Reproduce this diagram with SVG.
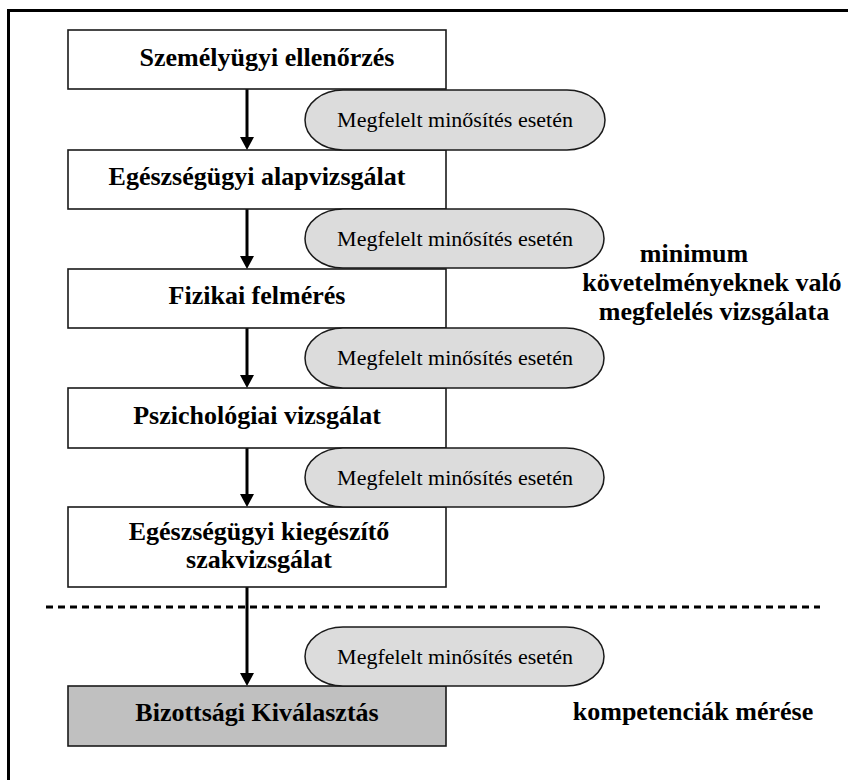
<svg xmlns="http://www.w3.org/2000/svg" width="848" height="780" viewBox="0 0 848 780">
<style>
.box{fill:#ffffff;stroke:#1a1a1a;stroke-width:1.6}
.grey{fill:#c0c0c0}
.pill{fill:#dcdcdc;stroke:#1a1a1a;stroke-width:1.5}
.bt{font-family:'Liberation Serif','Times New Roman','DejaVu Serif',serif;font-weight:bold;font-size:26px;fill:#000;text-anchor:middle}
.pt{font-family:'Liberation Serif','Times New Roman','DejaVu Serif',serif;font-size:22px;fill:#000;text-anchor:middle}
.conn{stroke:#000;stroke-width:3;fill:none}
</style>
<defs>
<marker id="ah" markerUnits="userSpaceOnUse" markerWidth="14" markerHeight="14" refX="1" refY="7" orient="auto">
<path d="M0,0 L13,7 L0,14 Z" fill="#000"/>
</marker>
</defs>
<rect width="848" height="780" fill="#fff"/>
<g id="frame">
<path d="M8.5,780 V10.5 H848" fill="none" stroke="#000" stroke-width="3"/>
</g>
<g id="connectors">
<line class="conn" x1="247" y1="89" x2="247" y2="138" marker-end="url(#ah)"/>
<line class="conn" x1="247" y1="209" x2="247" y2="257" marker-end="url(#ah)"/>
<line class="conn" x1="247" y1="328" x2="247" y2="376" marker-end="url(#ah)"/>
<line class="conn" x1="247" y1="448" x2="247" y2="495" marker-end="url(#ah)"/>
<line class="conn" x1="247" y1="587" x2="247" y2="674" marker-end="url(#ah)"/>
<line x1="46" y1="607" x2="820" y2="607" stroke="#000" stroke-width="3" stroke-dasharray="7,5"/>
</g>
<g id="n1"><rect class="box" x="68" y="30" width="378" height="59"/><text class="bt" x="267" y="66">Személyügyi ellenőrzés</text></g>
<g id="n2"><rect class="box" x="68" y="150" width="378" height="59"/><text class="bt" x="257" y="185">Egészségügyi alapvizsgálat</text></g>
<g id="n3"><rect class="box" x="68" y="269" width="378" height="59"/><text class="bt" x="257" y="304">Fizikai felmérés</text></g>
<g id="n4"><rect class="box" x="68" y="388" width="378" height="60"/><text class="bt" x="257" y="424">Pszichológiai vizsgálat</text></g>
<g id="n5"><rect class="box" x="68" y="507" width="378" height="80"/><text class="bt" x="259" y="540">Egészségügyi kiegészítő</text><text class="bt" x="259" y="568">szakvizsgálat</text></g>
<g id="n6"><rect class="box grey" x="68" y="686" width="378" height="60"/><text class="bt" x="257" y="721">Bizottsági Kiválasztás</text></g>
<g id="p1"><rect class="pill" x="305" y="90" width="300" height="60" rx="38" ry="30"/><text class="pt" x="455" y="127">Megfelelt minősítés esetén</text></g>
<g id="p2"><rect class="pill" x="305" y="209" width="299" height="59" rx="38" ry="29.5"/><text class="pt" x="455" y="246">Megfelelt minősítés esetén</text></g>
<g id="p3"><rect class="pill" x="305" y="328" width="299" height="60" rx="38" ry="30"/><text class="pt" x="455" y="365">Megfelelt minősítés esetén</text></g>
<g id="p4"><rect class="pill" x="305" y="448" width="299" height="59" rx="38" ry="29.5"/><text class="pt" x="455" y="485">Megfelelt minősítés esetén</text></g>
<g id="p5"><rect class="pill" x="305" y="627" width="299" height="59" rx="38" ry="29.5"/><text class="pt" x="455" y="664">Megfelelt minősítés esetén</text></g>
<g id="label-min">
<text class="bt" x="694" y="262">minimum</text>
<text class="bt" x="712" y="291">követelményeknek való</text>
<text class="bt" x="714" y="320">megfelelés vizsgálata</text>
</g>
<g id="label-komp"><text class="bt" x="693" y="720">kompetenciák mérése</text></g>
</svg>
